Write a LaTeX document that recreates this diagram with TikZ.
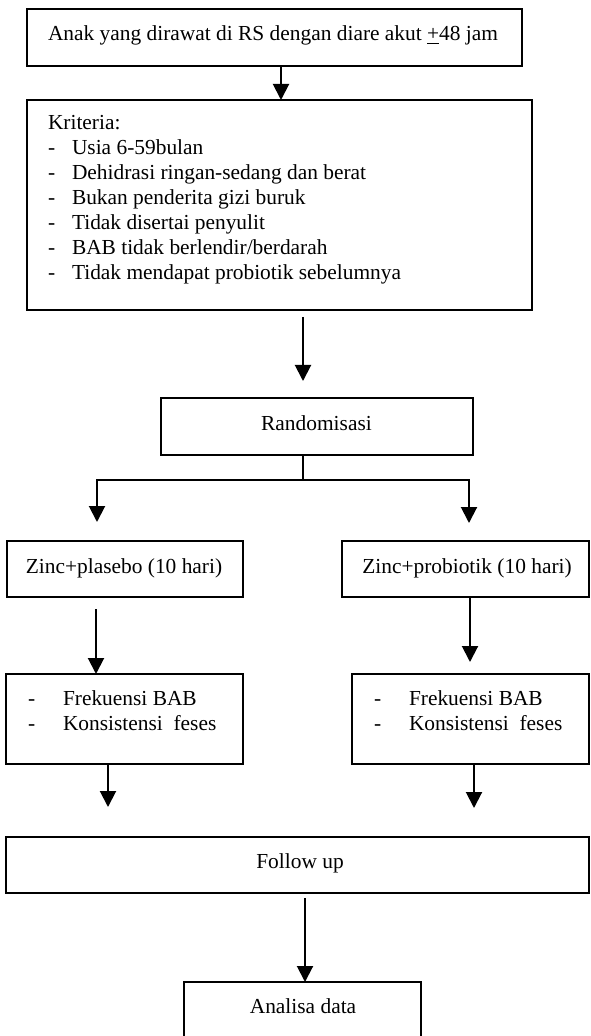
\documentclass[tikz,border=0pt]{standalone}
\usepackage{fontspec}
\setmainfont{Liberation Serif}
\usetikzlibrary{arrows.meta,fit}
\begin{document}
\begin{tikzpicture}[x=0.5pt,y=-0.5pt,
  box/.style={draw, line width=1pt, inner sep=0pt, outer sep=0pt},
  txt/.style={inner sep=0pt, outer sep=0pt, anchor=base west, font=\fontsize{10.7}{12.5}\selectfont},
  ctxt/.style={txt, anchor=base},
  arr/.style={line width=1pt, -{Triangle[width=8pt,length=8pt]}},
  arrbi/.style={line width=1pt, {Triangle[width=8pt,length=8pt]}-{Triangle[width=8pt,length=8pt]}},
  ln/.style={line width=1pt}]
\useasboundingbox (0,0) rectangle (590,1036);

% boxes
\node[box, fit={(27,9) (522,66)}] (b1) {};
\node[box, fit={(27,100) (532,310)}] (b2) {};
\node[box, fit={(161,398) (473,455)}] (r) {};
\node[box, fit={(7,541) (243,597)}] (zl) {};
\node[box, fit={(342,541) (588.5,597)}] (zr) {};
\node[box, fit={(6,674) (243,764)}] (fl) {};
\node[box, fit={(352,674) (588.5,764)}] (fr) {};
\node[box, fit={(6,837) (588.5,893)}] (fu) {};
\node[box, fit={(184,982) (421,1060)}] (ad) {};

% texts
\node[txt] (t1) at (48,41) {Anak yang dirawat di RS dengan diare akut \underline{+}48 jam};
\node[txt] (k0) at (48,130) {Kriteria:};
\foreach \i/\s in {1/Usia 6-59bulan, 2/Dehidrasi ringan-sedang dan berat, 3/Bukan penderita gizi buruk, 4/Tidak disertai penyulit, 5/BAB tidak berlendir\slash berdarah, 6/Tidak mendapat probiotik sebelumnya}{
  \node[txt] (kd\i) at (48,130+25*\i) {-};
  \node[txt] (k\i) at (72,130+25*\i) {\s};
}
\node[ctxt] (tr) at (316.5,430) {Randomisasi};
\node[ctxt] (tzl) at (124,573) {Zinc+plasebo (10 hari)};
\node[ctxt] (tzr) at (467,573) {Zinc+probiotik (10 hari)};
\node[txt] (fld1) at (28,705) {-};
\node[txt] (fl1) at (63,705) {Frekuensi BAB};
\node[txt] (fld2) at (28,730) {-};
\node[txt] (fl2) at (63,730) {Konsistensi\ \ feses};
\node[txt] (frd1) at (374,705) {-};
\node[txt] (fr1) at (409,705) {Frekuensi BAB};
\node[txt] (frd2) at (374,730) {-};
\node[txt] (fr2) at (409,730) {Konsistensi\ \ feses};
\node[ctxt] (tfu) at (300,868) {Follow up};
\node[ctxt] (tad) at (303,1013) {Analisa data};

% connectors
\coordinate (c1) at (281,0);
\draw[arr] (b1.south -| c1) -- (b2.north -| c1);

\coordinate (a2s) at (303,317);
\coordinate (a2e) at (303,381);
\draw[arr] (a2s) -- (a2e);

\coordinate (sp) at (303,480);
\coordinate (jl) at (97,480);
\coordinate (jr) at (469,480);
\coordinate (tl) at (97,522);
\coordinate (trr) at (469,523);
\draw[ln] (r.south -| sp) -- (sp);
\draw[arrbi] (tl) -- (jl) -- (jr) -- (trr);

\coordinate (a4l) at (96,609);
\draw[arr] (a4l) -- (a4l |- fl.north);
\coordinate (a4r) at (470,0);
\coordinate (a4re) at (470,662);
\draw[arr] (zr.south -| a4r) -- (a4re);

\coordinate (a5l) at (108,0);
\coordinate (a5le) at (108,807);
\draw[arr] (fl.south -| a5l) -- (a5le);
\coordinate (a5r) at (474,0);
\coordinate (a5re) at (474,808);
\draw[arr] (fr.south -| a5r) -- (a5re);

\coordinate (a6s) at (305,898);
\draw[arr] (a6s) -- (a6s |- ad.north);
\end{tikzpicture}
\end{document}
